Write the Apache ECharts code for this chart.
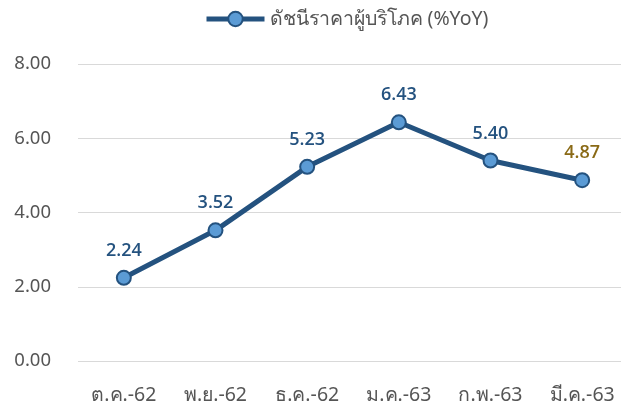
<!DOCTYPE html>
<html>
<head>
<meta charset="utf-8">
<script src="https://cdn.jsdelivr.net/npm/echarts@6/dist/echarts.min.js"></script>
<style>
  html, body { margin: 0; padding: 0; background: #fff; }
  #chart { width: 621px; height: 410px; }
</style>
</head>
<body>
<div id="chart"></div>
<script>
// ข้อมูล
const months = ['ต.ค.-62', 'พ.ย.-62', 'ธ.ค.-62', 'ม.ค.-63', 'ก.พ.-63', 'มี.ค.-63'];
const cpiYoY = [2.24, 3.52, 5.23, 6.43, 5.40, 4.87];
const seriesName = 'ดัชนีราคาผู้บริโภค (%YoY)';

const lineColor = '#24527f';
const font = 'Tahoma, "Noto Sans", "DejaVu Sans", sans-serif';

const myChart = echarts.init(document.getElementById('chart'));
myChart.setOption({
  animation: false,
  textStyle: { fontFamily: font },
  legend: {
    top: 4,
    left: 199,
    itemWidth: 58,
    itemHeight: 18,
    itemGap: 4,
    lineStyle: { width: 5 },
    textStyle: { fontSize: 19.5, color: '#555', fontFamily: font },
    data: [seriesName]
  },
  grid: { left: 78, top: 64, width: 550, height: 297, outerBoundsMode: 'none', containLabel: false },
  xAxis: {
    type: 'category',
    data: months,
    axisLine: { show: false },
    axisTick: { show: false },
    axisLabel: { fontSize: 19.5, color: '#555', margin: 24 }
  },
  yAxis: {
    type: 'value',
    min: 0, max: 8, interval: 2,
    axisLabel: {
      fontSize: 18.5, color: '#555', margin: 27,
      formatter: v => v.toFixed(2)
    },
    splitLine: { lineStyle: { color: '#d9d9d9', width: 1 } }
  },
  series: [{
    name: seriesName,
    type: 'line',
    data: cpiYoY.map((v, i) => i === cpiYoY.length - 1
      ? { value: v, label: { color: '#8a6a16' } }
      : v),
    symbol: 'circle',
    symbolSize: 14,
    lineStyle: { color: lineColor, width: 5 },
    itemStyle: { color: '#5b9bd5', borderColor: lineColor, borderWidth: 2 },
    label: {
      show: true,
      position: 'top',
      distance: 10,
      fontSize: 18,
      fontWeight: 600,
      fontFamily: '"Open Sans", "Noto Sans", sans-serif',
      color: lineColor,
      formatter: p => p.value.toFixed(2)
    }
  }]
});
</script>
</body>
</html>
